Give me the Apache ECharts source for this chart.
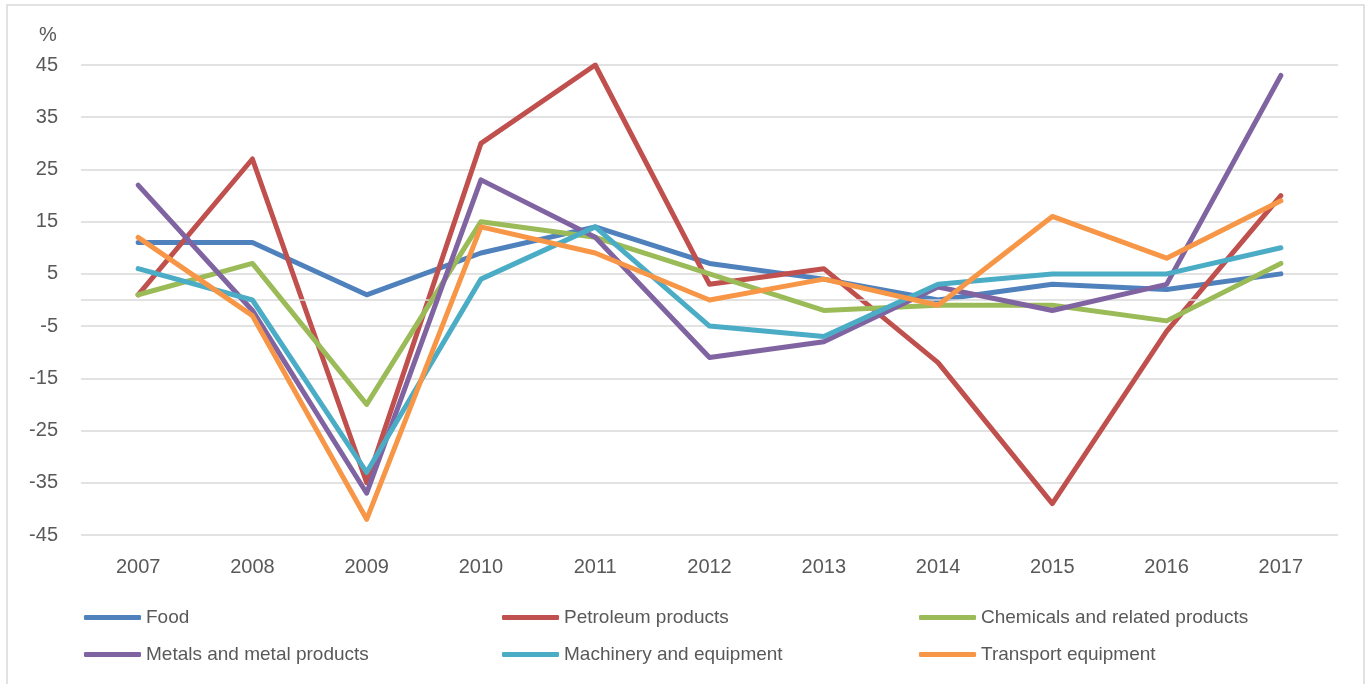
<!DOCTYPE html>
<html>
<head>
<meta charset="utf-8">
<script src="https://cdn.jsdelivr.net/npm/echarts@6/dist/echarts.min.js"></script>
<style>html,body{margin:0;padding:0;background:#fff}#c{width:1368px;height:684px}</style>
</head>
<body>
<div id="c"></div>
<script>
const years = ['2007','2008','2009','2010','2011','2012','2013','2014','2015','2016','2017'];
const food        = [11, 11, 1, 9, 14, 7, 4, 0, 3, 2, 5];
const petroleum   = [1, 27, -35, 30, 45, 3, 6, -12, -39, -6, 20];
const chemicals   = [1, 7, -20, 15, 12, 5, -2, -1, -1, -4, 7];
const metals      = [22, -2, -37, 23, 12, -11, -8, 2.5, -2, 3, 43];
const machinery   = [6, 0, -33, 4, 14, -5, -7, 3, 5, 5, 10];
const transport   = [12, -3, -42, 14, 9, 0, 4, -1, 16, 8, 19];
const seriesNames = ['Food','Petroleum products','Chemicals and related products','Metals and metal products','Machinery and equipment','Transport equipment'];
const seriesData  = [food, petroleum, chemicals, metals, machinery, transport];
const colors = ['#4F81BD','#C0504D','#9BBB59','#8064A2','#4BACC6','#F79646'];

const legendPos = [[84,608],[502,608],[919,608],[84,645],[502,645],[919,645]];
const font = '"Liberation Sans", Arial, sans-serif';

const series = seriesNames.map((n,i)=>({
  name:n, type:'line', data:seriesData[i], symbol:'none', smooth:false,
  lineStyle:{width:5, color:colors[i], cap:'round', join:'round'},
  itemStyle:{color:colors[i]},
  z: 3+i,
  markLine: i===0 ? {silent:true, symbol:'none', label:{show:false},
     lineStyle:{color:'#d9d9d9', width:1.5, type:'solid'}, data:[{yAxis:0}]} : undefined
}));

const legends = seriesNames.map((n,i)=>({
  data:[n], left:legendPos[i][0], top:legendPos[i][1], padding:0,
  icon:'roundRect', itemWidth:57, itemHeight:5, itemGap:5,
  textStyle:{fontFamily:font, fontSize:19, color:'#595959'}
}));

const chart = echarts.init(document.getElementById('c'));
chart.setOption({
  animation:false,
  color:colors,
  title:{text:'%', left:34, top:20, textStyle:{fontFamily:font, fontSize:20, fontWeight:'normal', color:'#595959'}},
  graphic:[{type:'rect', shape:{x:7, y:5, width:1357, height:700}, style:{fill:'none', stroke:'#d9d9d9', lineWidth:1.5}, silent:true}],
  legend:legends,
  grid:{left:81, right:30, top:65, bottom:149, containLabel:false},
  xAxis:{type:'category', data:years, boundaryGap:true,
    axisLine:{show:false, onZero:false}, axisTick:{show:false},
    axisLabel:{fontFamily:font, fontSize:20, color:'#595959', margin:22}},
  yAxis:{type:'value', min:-45, max:45, interval:10,
    axisLine:{show:false}, axisTick:{show:false},
    splitLine:{lineStyle:{color:'#d9d9d9', width:1.5}},
    axisLabel:{fontFamily:font, fontSize:20, color:'#595959', margin:23}},
  series:series
});
</script>
</body>
</html>
